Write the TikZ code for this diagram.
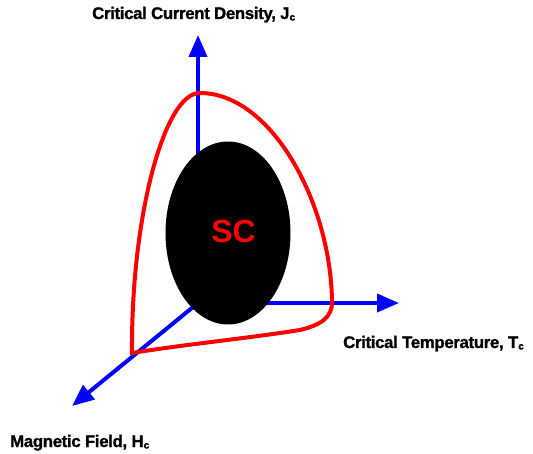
\documentclass[tikz,border=0pt]{standalone}
\usepackage{fontspec}
\setmainfont{Liberation Sans}
\newfontfamily\heavyfont[FakeBold=1.2,LetterSpace=-2]{Liberation Sans Bold}
\usetikzlibrary{arrows.meta,shapes.geometric}
\newcommand{\subc}{\raisebox{-1.5pt}{\fontsize{10}{10}\selectfont c}}
\begin{document}
\begin{tikzpicture}[x=1pt,y=-1pt,
  axis/.style={draw=blue, line width=4pt, -{Triangle[width=18pt,length=22pt]}},
  envelope/.style={draw=red, line width=4pt},
  axlabel/.style={font=\fontsize{16.8}{16.8}\heavyfont, inner sep=0pt, anchor=base west}]
\useasboundingbox (0,0) rectangle (533,454);
\coordinate (O) at (198,303);
\coordinate (jtip) at (198,35);
\coordinate (ttip) at (399,303);
\coordinate (htip) at (72,406);
\draw[axis] (O) -- (jtip);
\draw[axis] (O) -- (ttip);
\draw[axis] (O) -- (htip);
\node[ellipse, fill=black, minimum width=125pt, minimum height=183pt, inner sep=0pt] (sc) at (228,233) {};
\node[text=red, font=\fontsize{32}{32}\selectfont\bfseries, inner sep=0pt] (sctext) at (233.5,231) {SC};
\coordinate (c1) at (132,353);
\coordinate (c2) at (200,93);
\coordinate (c3) at (332,300);
\coordinate (c4) at (300,330);
\draw[envelope] (c1) .. controls (131,215) and (165,92) .. (c2)
  .. controls (270,93) and (330,200) .. (c3)
  .. controls (333,318) and (320,325) .. (c4)
  .. controls (250,338) and (180,345) .. cycle;
\node[axlabel] (jl) at (92,19) {Critical Current Density, J\subc};
\node[axlabel] (tl) at (343,348) {Critical Temperature, T\subc};
\node[axlabel] (hl) at (10,447) {Magnetic Field, H\subc};
\end{tikzpicture}
\end{document}
